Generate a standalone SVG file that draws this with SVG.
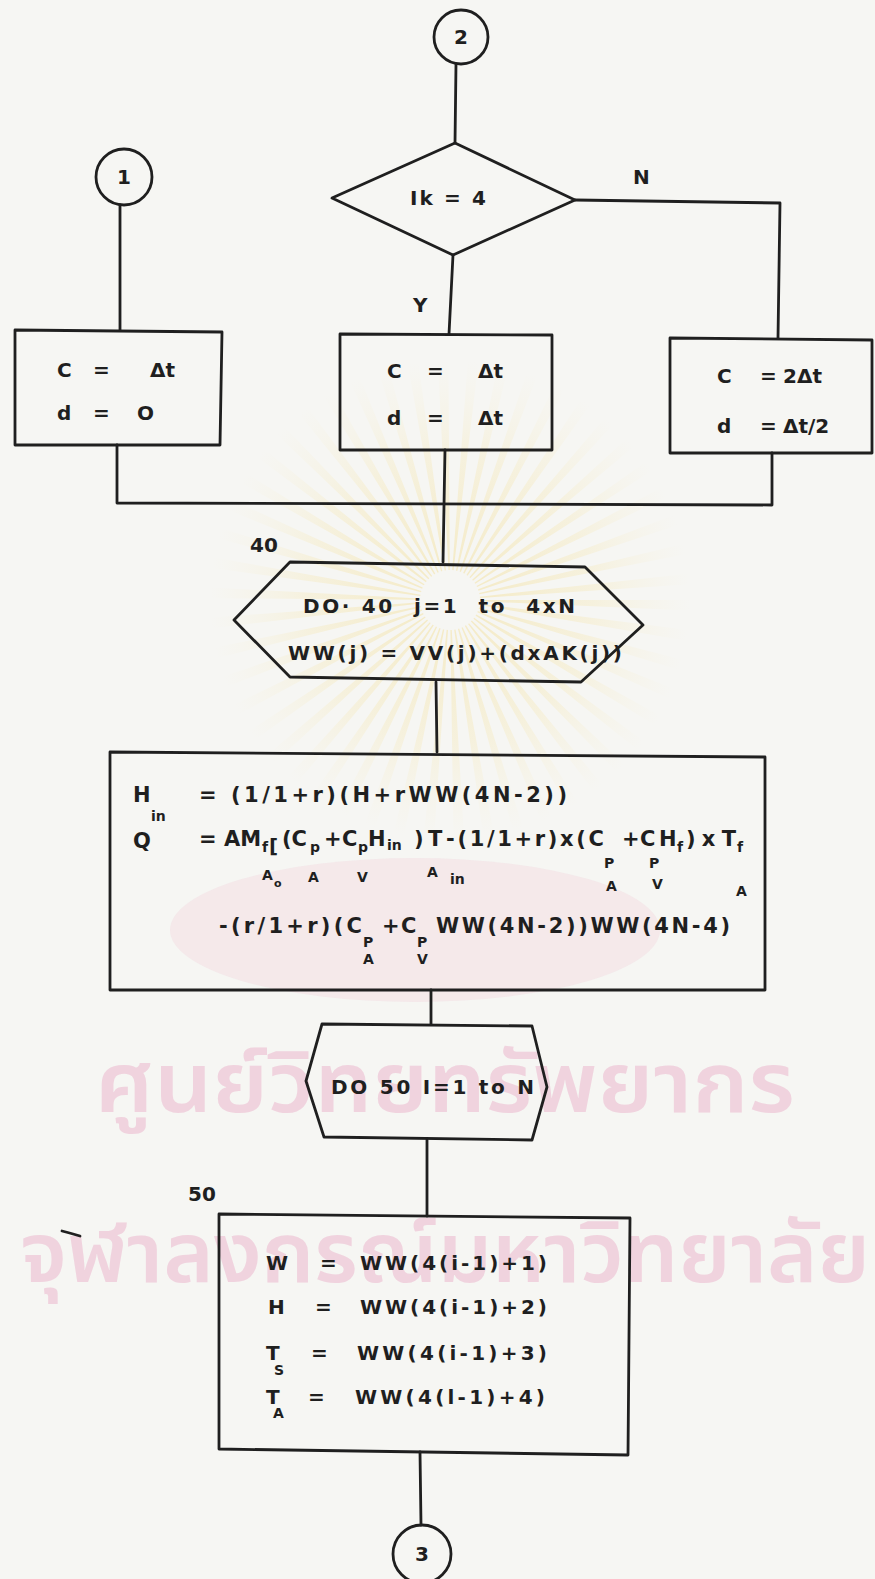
<svg xmlns="http://www.w3.org/2000/svg" width="875" height="1579" viewBox="0 0 875 1579">
  <defs>
    <style>
      .ln { fill: none; stroke: #1f1f1f; stroke-width: 2.8; stroke-linejoin: round; stroke-linecap: round; }
      .t { font-family: "DejaVu Sans", "Liberation Sans", sans-serif; font-weight: bold; font-size: 20px; fill: #1f1f1f; white-space: pre; }
      .m { font-size: 21px; }
      .s { font-size: 14px; }
      .xs { font-size: 11px; }
      .wm { font-family: "Noto Sans Thai", "Noto Sans", "DejaVu Sans", sans-serif; font-size: 84px; font-weight: 600; fill: #f0d3de; }
    </style>
    <radialGradient id="rayFade" gradientUnits="userSpaceOnUse" cx="450" cy="600" r="240">
      <stop offset="0" stop-color="#f2dc8e" stop-opacity="0.5"/>
      <stop offset="0.6" stop-color="#f5e4a6" stop-opacity="0.28"/>
      <stop offset="1" stop-color="#f7ecc4" stop-opacity="0"/>
    </radialGradient>
  </defs>

  <!-- paper -->
  <rect width="875" height="1579" fill="#f6f6f3"/>

  <!-- faint background seal and lettering -->
  <g id="watermark">
    <circle cx="450" cy="600" r="135" fill="none" stroke="url(#rayFade)" stroke-width="210" stroke-dasharray="6 11"/>
    <ellipse cx="415" cy="930" rx="245" ry="72" fill="#f3dbe1" opacity="0.5"/>
    <text class="wm" x="95" y="1112" textLength="700" lengthAdjust="spacingAndGlyphs">ศูนย์วิทยทรัพยากร</text>
    <text class="wm" x="20" y="1282" textLength="850" lengthAdjust="spacingAndGlyphs">จุฬาลงกรณ์มหาวิทยาลัย</text>
  </g>

  <!-- connectors -->
  <g id="connectors">
    <path class="ln" d="M456,64 L455,143"/>
    <path class="ln" d="M575,200 L780,203 L778,338"/>
    <path class="ln" d="M453,255 L449,334"/>
    <path class="ln" d="M120,205 L120,330"/>
    <path class="ln" d="M117,445 L117,503 L772,505 L772,453"/>
    <path class="ln" d="M445,450 L443,562"/>
    <path class="ln" d="M436,682 L437,752"/>
    <path class="ln" d="M431,990 L431,1024"/>
    <path class="ln" d="M427,1140 L427,1216"/>
    <path class="ln" d="M420,1452 L421,1525"/>
  </g>

  <!-- branch labels and statement numbers -->
  <g id="labels">
    <text class="t" x="633" y="184">N</text>
    <text class="t" x="413" y="312">Y</text>
    <text class="t" x="250" y="552">40</text>
    <text class="t" x="188" y="1201">50</text>
    <path class="ln" d="M62,1231 Q70,1233 80,1236" stroke-width="3.2"/>
  </g>

  <g id="connector-2">
    <circle class="ln" cx="461" cy="37" r="27"/>
    <text class="t" x="461" y="44" text-anchor="middle" font-size="19">2</text>
  </g>

  <g id="connector-1">
    <circle class="ln" cx="124" cy="177" r="28"/>
    <text class="t" x="124" y="184" text-anchor="middle" font-size="19">1</text>
  </g>

  <g id="decision-ik">
    <path class="ln" d="M455,143 L575,200 L453,255 L332,198 Z"/>
    <text class="t" x="410" y="205" textLength="76" lengthAdjust="spacing">Ik = 4</text>
  </g>

  <g id="box-left">
    <path class="ln" d="M15,330 L222,332 L220,445 L15,445 Z"/>
    <text class="t" x="57" y="377">C</text>
    <text class="t" x="93" y="377">=</text>
    <text class="t" x="150" y="377">Δt</text>
    <text class="t" x="57" y="420">d</text>
    <text class="t" x="93" y="420">=</text>
    <text class="t" x="137" y="420">O</text>
  </g>

  <g id="box-middle">
    <path class="ln" d="M340,334 L552,335 L552,450 L340,450 Z"/>
    <text class="t" x="387" y="378">C</text>
    <text class="t" x="427" y="378">=</text>
    <text class="t" x="478" y="378">Δt</text>
    <text class="t" x="387" y="425">d</text>
    <text class="t" x="427" y="425">=</text>
    <text class="t" x="478" y="425">Δt</text>
  </g>

  <g id="box-right">
    <path class="ln" d="M670,338 L872,340 L872,453 L670,453 Z"/>
    <text class="t" x="717" y="383">C</text>
    <text class="t" x="760" y="383">=</text>
    <text class="t" x="783" y="383">2Δt</text>
    <text class="t" x="717" y="433">d</text>
    <text class="t" x="760" y="433">=</text>
    <text class="t" x="783" y="433">Δt/2</text>
  </g>

  <g id="loop-40">
    <path class="ln" d="M290,562 L585,567 L643,625 L581,682 L290,677 L234,620 Z"/>
    <text class="t" x="303" y="613" textLength="272" lengthAdjust="spacing">DO· 40  j=1  to  4xN</text>
    <text class="t" x="288" y="660" textLength="334" lengthAdjust="spacing">WW(j) = VV(j)+(dxAK(j))</text>
  </g>

  <g id="box-heat">
    <path class="ln" d="M110,752 L765,757 L765,990 L110,990 Z"/>
    <!-- H_in line -->
    <text class="t m" x="133" y="802">H</text>
    <text class="t s" x="151" y="821">in</text>
    <text class="t m" x="199" y="802">=</text>
    <text class="t m" x="231" y="802" textLength="336" lengthAdjust="spacing">(1/1+r)(H+rWW(4N-2))</text>
    <!-- Q line -->
    <text class="t m" x="133" y="848">Q</text>
    <text class="t m" x="199" y="846">=</text>
    <text class="t m" x="224" y="846">AM</text>
    <text class="t s" x="262" y="852">f</text>
    <text class="t" x="269" y="853" font-size="28">[</text>
    <text class="t m" x="282" y="846">(C</text>
    <text class="t s" x="310" y="852">p</text>
    <text class="t m" x="324" y="846">+</text>
    <text class="t m" x="342" y="846">C</text>
    <text class="t s" x="358" y="852">p</text>
    <text class="t m" x="368" y="846">H</text>
    <text class="t s" x="387" y="850">in</text>
    <text class="t m" x="414" y="846">)</text>
    <text class="t m" x="428" y="846">T</text>
    <text class="t m" x="446" y="846" textLength="158" lengthAdjust="spacing">-(1/1+r)x(C</text>
    <text class="t m" x="622" y="846">+</text>
    <text class="t m" x="640" y="846">C</text>
    <text class="t m" x="659" y="846">H</text>
    <text class="t s" x="677" y="852">f</text>
    <text class="t m" x="686" y="846" textLength="50" lengthAdjust="spacing">)xT</text>
    <text class="t s" x="737" y="852">f</text>
    <!-- lower indices of the Q line -->
    <text class="t s" x="262" y="880">A</text>
    <text class="t xs" x="274" y="887">o</text>
    <text class="t s" x="308" y="882">A</text>
    <text class="t s" x="357" y="882">V</text>
    <text class="t s" x="427" y="877">A</text>
    <text class="t s" x="450" y="884">in</text>
    <text class="t s" x="604" y="868">P</text>
    <text class="t s" x="606" y="891">A</text>
    <text class="t s" x="649" y="868">P</text>
    <text class="t s" x="652" y="889">V</text>
    <text class="t s" x="736" y="896">A</text>
    <!-- third line -->
    <text class="t m" x="219" y="933" textLength="143" lengthAdjust="spacing">-(r/1+r)(C</text>
    <text class="t s" x="363" y="947">P</text>
    <text class="t s" x="363" y="964">A</text>
    <text class="t m" x="382" y="933">+</text>
    <text class="t m" x="401" y="933">C</text>
    <text class="t s" x="417" y="947">P</text>
    <text class="t s" x="417" y="964">V</text>
    <text class="t m" x="436" y="933" textLength="294" lengthAdjust="spacing">WW(4N-2))WW(4N-4)</text>
  </g>

  <g id="loop-50">
    <path class="ln" d="M322,1024 L532,1026 L547,1087 L532,1140 L324,1137 L306,1081 Z"/>
    <text class="t" x="331" y="1094" textLength="203" lengthAdjust="spacing">DO 50 I=1 to N</text>
  </g>

  <g id="box-state">
    <path class="ln" d="M219,1214 L630,1218 L628,1455 L219,1449 Z"/>
    <text class="t" x="266" y="1270">W</text>
    <text class="t" x="320" y="1270">=</text>
    <text class="t" x="360" y="1270" textLength="187" lengthAdjust="spacing">WW(4(i-1)+1)</text>
    <text class="t" x="268" y="1314">H</text>
    <text class="t" x="315" y="1314">=</text>
    <text class="t" x="360" y="1314" textLength="187" lengthAdjust="spacing">WW(4(i-1)+2)</text>
    <text class="t" x="266" y="1360">T</text>
    <text class="t s" x="274" y="1375">S</text>
    <text class="t" x="311" y="1360">=</text>
    <text class="t" x="357" y="1360" textLength="190" lengthAdjust="spacing">WW(4(i-1)+3)</text>
    <text class="t" x="266" y="1404">T</text>
    <text class="t s" x="273" y="1418">A</text>
    <text class="t" x="308" y="1404">=</text>
    <text class="t" x="355" y="1404" textLength="190" lengthAdjust="spacing">WW(4(l-1)+4)</text>
  </g>

  <g id="connector-3">
    <circle class="ln" cx="422" cy="1554" r="29"/>
    <text class="t" x="422" y="1561" text-anchor="middle" font-size="19">3</text>
  </g>
</svg>
